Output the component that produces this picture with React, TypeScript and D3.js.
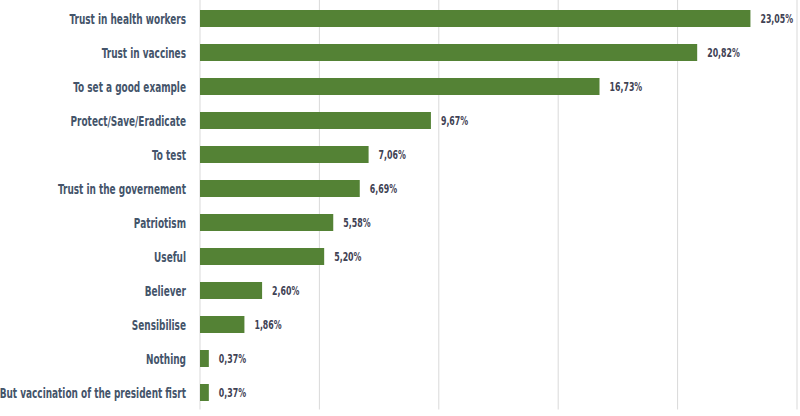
import React from "react";
import * as d3 from "d3";

const categories = [
  "Trust in health workers",
  "Trust in vaccines",
  "To set a good example",
  "Protect/Save/Eradicate",
  "To test",
  "Trust in the governement",
  "Patriotism",
  "Useful",
  "Believer",
  "Sensibilise",
  "Nothing",
  "But vaccination of the president fisrt",
];
const values = [23.05, 20.82, 16.73, 9.67, 7.06, 6.69, 5.58, 5.2, 2.6, 1.86, 0.37, 0.37];
const ticks = [0, 5, 10, 15, 20, 25];

const W = 800;
const H = 416;
const left = 200;
const right = 797;
const top = 1.5;
const bottom = 409.5;

export default function App() {
  const x = d3.scaleLinear().domain([0, 25]).range([left, right]);
  const y = d3.scaleBand<string>().domain(categories).range([top, bottom]).paddingInner(0.5).paddingOuter(0.25);
  const fmt = (v: number) => v.toFixed(2).replace(".", ",") + "%";
  const font = "'DejaVu Sans Condensed', 'DejaVu Sans', sans-serif";
  return (
    <svg width={W} height={H} style={{ position: "absolute", left: 0, top: 0, background: "#fff" }}>
      {ticks.map((t) => (
        <line key={t} x1={x(t)} x2={x(t)} y1={0} y2={bottom} stroke="#d9d9d9" strokeWidth={1} />
      ))}
      {categories.map((c, i) => {
        const cy = y(c)! + y.bandwidth() / 2;
        return (
          <g key={c}>
            <rect x={x(0)} y={y(c)!} width={x(values[i]) - x(0)} height={y.bandwidth()} fill="#548235" />
            <g transform={`translate(${left - 14},${cy}) scale(0.71,1)`}>
              <text
                dy="0.36em"
                textAnchor="end"
                fontFamily={font}
                fontStretch="condensed"
                fontWeight="bold"
                fontSize={14}
                fill="#44546a"
              >
                {c}
              </text>
            </g>
            <g transform={`translate(${x(values[i]) + 10},${cy}) scale(0.7,1)`}>
              <text
                dy="0.36em"
                fontFamily={font}
                fontStretch="condensed"
                fontWeight="bold"
                fontSize={12.5}
                fill="#3f4254"
              >
                {fmt(values[i])}
              </text>
            </g>
          </g>
        );
      })}
    </svg>
  );
}
